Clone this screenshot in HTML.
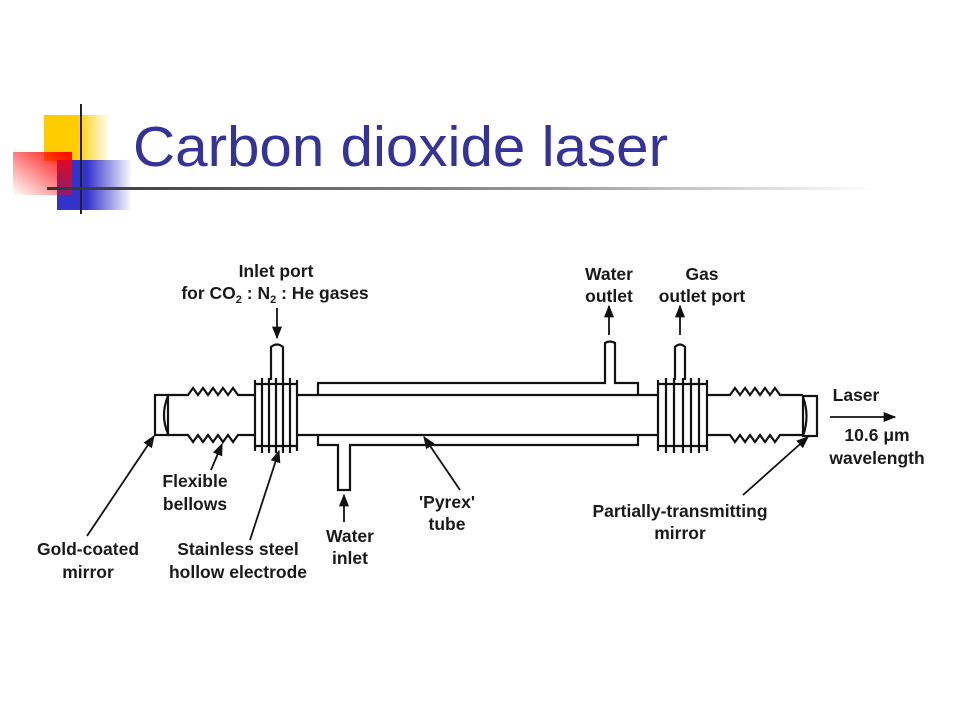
<!DOCTYPE html>
<html><head><meta charset="utf-8"><style>
html,body{margin:0;padding:0;background:#fff;width:960px;height:720px;overflow:hidden}
</style></head><body>
<svg width="960" height="720" viewBox="0 0 960 720" xmlns="http://www.w3.org/2000/svg">
<defs>
<linearGradient id="gy" x1="0" x2="1"><stop offset="0.5" stop-color="#ffcc00"/><stop offset="1" stop-color="#ffcc00" stop-opacity="0"/></linearGradient>
<linearGradient id="gb" x1="0" x2="1"><stop offset="0.4" stop-color="#3333cc"/><stop offset="1" stop-color="#3333cc" stop-opacity="0"/></linearGradient>
<linearGradient id="gr" x1="1" y1="0" x2="0" y2="1"><stop offset="0" stop-color="#ff0000"/><stop offset="1" stop-color="#ff0000" stop-opacity="0"/></linearGradient>
<linearGradient id="gl" x1="0" x2="1"><stop offset="0" stop-color="#333"/><stop offset="0.6" stop-color="#999"/><stop offset="1" stop-color="#fff"/></linearGradient>
<marker id="ar" viewBox="0 0 10 10" refX="9" refY="5" markerWidth="7" markerHeight="7" orient="auto"><path d="M0,1 L10,5 L0,9 z" fill="#111"/></marker>
</defs>
<rect x="44" y="115" width="66" height="46" fill="url(#gy)"/>
<rect x="57" y="160" width="75" height="50" fill="url(#gb)"/>
<rect x="13" y="152" width="59" height="43" fill="url(#gr)"/>
<line x1="81" y1="104" x2="81" y2="214" stroke="#222" stroke-width="2"/>
<rect x="47" y="187" width="830" height="3" fill="url(#gl)"/>
<text x="133" y="166" font-family="Liberation Sans, sans-serif" font-size="57" fill="#333399" textLength="535" lengthAdjust="spacingAndGlyphs">Carbon dioxide laser</text>

<g stroke="#111" stroke-width="2.2" fill="none">
<rect x="155" y="395" width="13" height="40"/>
<path d="M168,396 Q160,415 168,434"/>
<path d="M168,395 H188 l5,-7 l5,7 l5,-7 l5,7 l5,-7 l5,7 l5,-7 l5,7 l5,-7 l5,7 H255"/>
<path d="M168,435 H188 l5,7 l5,-7 l5,7 l5,-7 l5,7 l5,-7 l5,7 l5,-7 l5,7 l5,-7 H255"/>
<line x1="255" y1="380" x2="255" y2="451"/>
<line x1="262" y1="378" x2="262" y2="453"/>
<line x1="269" y1="378" x2="269" y2="453"/>
<line x1="276" y1="378" x2="276" y2="453"/>
<line x1="283" y1="378" x2="283" y2="453"/>
<line x1="290" y1="378" x2="290" y2="453"/>
<line x1="297" y1="380" x2="297" y2="451"/>
<line x1="255" y1="384" x2="297" y2="384"/>
<line x1="255" y1="446" x2="297" y2="446"/>
<path d="M271,380 V347 Q277,342 283,347 V380"/>
<line x1="297" y1="395" x2="658" y2="395"/>
<line x1="297" y1="435" x2="658" y2="435"/>
<path d="M318,395 V383 H605 V343 Q610,340 615,343 V383 H638 V395"/>
<path d="M318,435 V445 H338 V490 H350 V445 H638 V435"/>
<line x1="658" y1="380" x2="658" y2="451"/>
<line x1="666" y1="378" x2="666" y2="453"/>
<line x1="674" y1="378" x2="674" y2="453"/>
<line x1="683" y1="378" x2="683" y2="453"/>
<line x1="691" y1="378" x2="691" y2="453"/>
<line x1="699" y1="378" x2="699" y2="453"/>
<line x1="707" y1="380" x2="707" y2="451"/>
<line x1="658" y1="384" x2="707" y2="384"/>
<line x1="658" y1="446" x2="707" y2="446"/>
<path d="M675,380 V347 Q680,342 685,347 V380"/>
<path d="M707,395 H730 l5,-7 l5,7 l5,-7 l5,7 l5,-7 l5,7 l5,-7 l5,7 l5,-7 l5,7 H803"/>
<path d="M707,435 H730 l5,7 l5,-7 l5,7 l5,-7 l5,7 l5,-7 l5,7 l5,-7 l5,7 l5,-7 H803"/>
<rect x="803" y="396" width="14" height="40"/>
<path d="M803,397 Q810,416 803,436"/>
</g>
<g stroke="#111" stroke-width="1.8" fill="none" marker-end="url(#ar)">
<line x1="277" y1="308" x2="277" y2="338"/>
<line x1="609" y1="335" x2="609" y2="306"/>
<line x1="680" y1="335" x2="680" y2="306"/>
<line x1="830" y1="417" x2="895" y2="417"/>
<line x1="344" y1="522" x2="344" y2="495"/>
<line x1="87" y1="536" x2="154" y2="436"/>
<line x1="211" y1="470" x2="222" y2="444"/>
<line x1="250" y1="540" x2="279" y2="451"/>
<line x1="460" y1="490" x2="424" y2="437"/>
<line x1="743" y1="495" x2="808" y2="437"/>
</g>
<g font-family="Liberation Sans, sans-serif" font-size="17.5" font-weight="bold" fill="#1a1a1a" text-anchor="middle">
<text x="276" y="277">Inlet port</text>
<text x="275" y="299">for CO<tspan font-size="11" dy="4">2</tspan><tspan dy="-4"> : N</tspan><tspan font-size="11" dy="4">2</tspan><tspan dy="-4"> : He gases</tspan></text>
<text x="609" y="280">Water</text>
<text x="609" y="302">outlet</text>
<text x="702" y="280">Gas</text>
<text x="702" y="302">outlet port</text>
<text x="856" y="401">Laser</text>
<text x="877" y="441">10.6  μm</text>
<text x="877" y="464">wavelength</text>
<text x="195" y="487">Flexible</text>
<text x="195" y="510">bellows</text>
<text x="88" y="555">Gold-coated</text>
<text x="88" y="578">mirror</text>
<text x="238" y="555">Stainless steel</text>
<text x="238" y="578">hollow electrode</text>
<text x="350" y="542">Water</text>
<text x="350" y="564">inlet</text>
<text x="447" y="508">'Pyrex'</text>
<text x="447" y="530">tube</text>
<text x="680" y="517">Partially-transmitting</text>
<text x="680" y="539">mirror</text>
</g>
</svg>
</body></html>
